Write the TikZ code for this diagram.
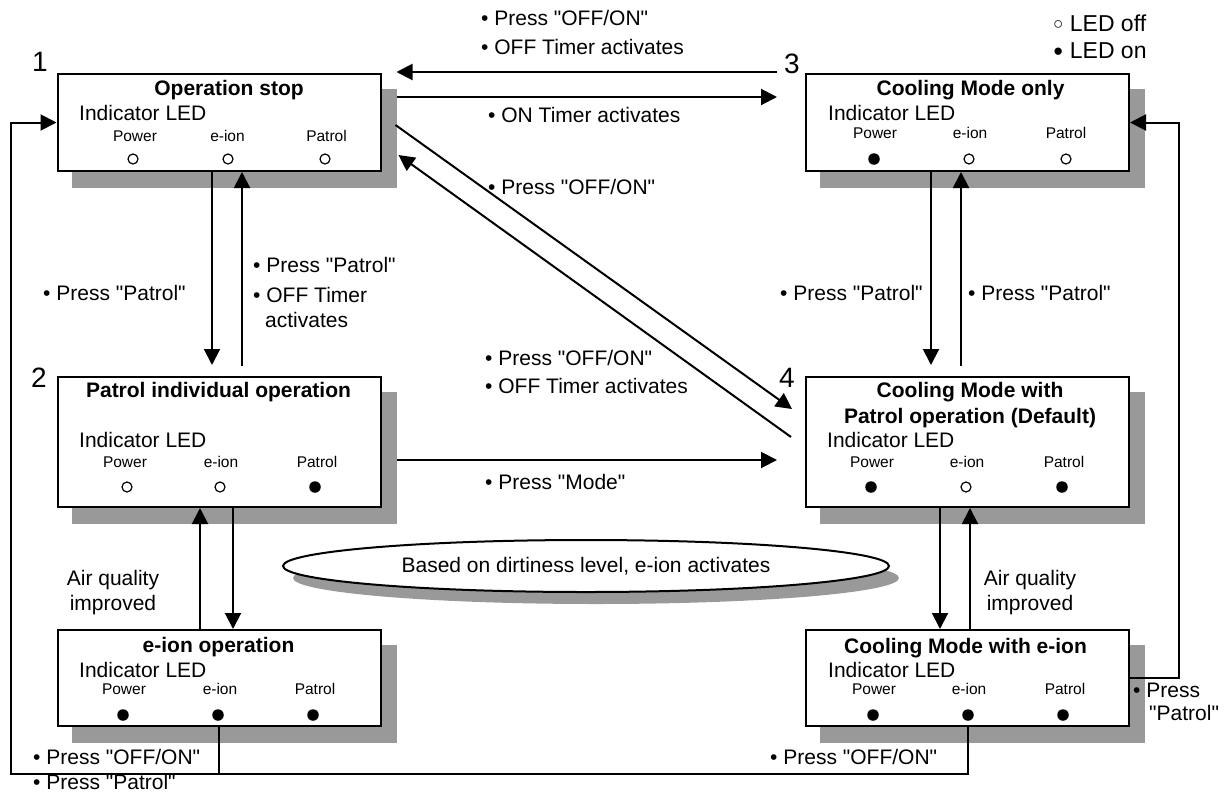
\documentclass[tikz,border=0pt]{standalone}
\usepackage{fontspec}
\newfontfamily\arial{Liberation Sans}
\usetikzlibrary{arrows.meta,shapes.geometric,backgrounds}
\definecolor{shadowgray}{RGB}{153,153,153}
\begin{document}
\begin{tikzpicture}[x=1pt,y=-1pt,
  lbl/.style={font=\arial\fontsize{21}{25}\selectfont, inner sep=0pt, text height=15pt, text depth=0pt, anchor=west},
  ttl/.style={font=\arial\fontsize{21}{25}\selectfont\bfseries, inner sep=0pt, text height=15pt, text depth=0pt},
  led/.style={font=\arial\fontsize{15.5}{18}\selectfont, inner sep=0pt, text height=11pt, text depth=0pt},
  num/.style={font=\arial\fontsize{28}{30}\selectfont, inner sep=0pt, text height=20pt, text depth=0pt},
  legend/.style={font=\arial\fontsize{23}{27}\selectfont, inner sep=0pt, text height=16.5pt, text depth=0pt, anchor=west},
  statebox/.style={draw, line width=2pt, fill=white, minimum width=323pt, inner sep=0pt},
  ledoff/.style={circle, draw, line width=1.2pt, fill=white, minimum size=10pt, inner sep=0pt},
  ledon/.style={circle, fill=black, minimum size=11.5pt, inner sep=0pt},
  arr/.style={line width=2pt, -{Triangle[length=16pt,width=16pt]}},
  con/.style={line width=2pt},
  shadowfill/.style={fill=shadowgray}
]
\useasboundingbox (0,0) rectangle (1228,796);

% state boxes
\node[statebox, minimum height=97pt] (b1) at (219,122.5) {};
\node[statebox, minimum height=97pt] (b3) at (967.5,122.5) {};
\node[statebox, minimum height=130pt] (b2) at (219,442) {};
\node[statebox, minimum height=130pt] (b4) at (967.5,442) {};
\node[statebox, minimum height=96pt] (b5) at (219,678) {};
\node[statebox, minimum height=96pt] (b6) at (967.5,678) {};

% ellipse
\node[ellipse, draw, line width=2pt, fill=white, minimum width=606pt, minimum height=52pt, inner sep=0pt,
      font=\arial\fontsize{21}{25}\selectfont] (ell) at (586,566) {Based on dirtiness level, e-ion activates};

\begin{scope}[on background layer]
\foreach \b in {b1,b2,b3,b4,b5,b6}
  \fill[shadowfill] ([xshift=15pt,yshift=-16pt]\b.south west) rectangle ([xshift=15pt,yshift=-16pt]\b.north east);
\fill[shadowfill] ([xshift=10pt,yshift=-12pt]ell.center) ellipse [x radius=303pt, y radius=26pt];
\end{scope}

% box 1
\node[ttl] (b1t) at (229,88) {Operation stop};
\node[lbl] (b1i) at (79,113) {Indicator LED};
\node[led] (b1a) at (135,136) {Power};
\node[led] (b1b) at (227.5,136) {e-ion};
\node[led] (b1c) at (326.5,136) {Patrol};
\node[ledoff] (b1ac) at (133,159) {};
\node[ledoff] (b1bc) at (228,159) {};
\node[ledoff] (b1cc) at (325,159) {};

% box 3
\node[ttl] (b3t) at (970.5,88) {Cooling Mode only};
\node[lbl] (b3i) at (828,113) {Indicator LED};
\node[led] (b3a) at (875,133) {Power};
\node[led] (b3b) at (970,133) {e-ion};
\node[led] (b3c) at (1066,133) {Patrol};
\node[ledon] (b3ac) at (874,159) {};
\node[ledoff] (b3bc) at (969,159) {};
\node[ledoff] (b3cc) at (1066,159) {};

% box 2
\node[ttl] (b2t) at (218.5,390) {Patrol individual operation};
\node[lbl] (b2i) at (79,440) {Indicator LED};
\node[led] (b2a) at (125,462) {Power};
\node[led] (b2b) at (221,462) {e-ion};
\node[led] (b2c) at (317,462) {Patrol};
\node[ledoff] (b2ac) at (127,487) {};
\node[ledoff] (b2bc) at (220,487) {};
\node[ledon] (b2cc) at (315,487) {};

% box 4
\node[ttl] (b4t) at (970,390) {Cooling Mode with};
\node[ttl] (b4u) at (970,416) {Patrol operation (Default)};
\node[lbl] (b4i) at (827,440) {Indicator LED};
\node[led] (b4a) at (872,462) {Power};
\node[led] (b4b) at (967,462) {e-ion};
\node[led] (b4c) at (1064,462) {Patrol};
\node[ledon] (b4ac) at (871,487) {};
\node[ledoff] (b4bc) at (966,487) {};
\node[ledon] (b4cc) at (1062,487) {};

% box 5
\node[ttl] (b5t) at (218.5,645) {e-ion operation};
\node[lbl] (b5i) at (79,670) {Indicator LED};
\node[led] (b5a) at (124,689) {Power};
\node[led] (b5b) at (220,689) {e-ion};
\node[led] (b5c) at (315,689) {Patrol};
\node[ledon] (b5ac) at (123,715) {};
\node[ledon] (b5bc) at (218,715) {};
\node[ledon] (b5cc) at (313,715) {};

% box 6
\node[ttl] (b6t) at (965.5,646) {Cooling Mode with e-ion};
\node[lbl] (b6i) at (828,670) {Indicator LED};
\node[led] (b6a) at (874,689) {Power};
\node[led] (b6b) at (969,689) {e-ion};
\node[led] (b6c) at (1065,689) {Patrol};
\node[ledon] (b6ac) at (873,715) {};
\node[ledon] (b6bc) at (968,715) {};
\node[ledon] (b6cc) at (1063,715) {};

% numbers
\node[num] (n1) at (40,61) {1};
\node[num] (n2) at (39,377) {2};
\node[num] (n3) at (792,63) {3};
\node[num] (n4) at (787,377) {4};

% legend
\node[legend] (lg1) at (1053,23) {{\fontsize{17}{20}\selectfont\raisebox{1.5pt}{○}} LED off};
\node[legend] (lg2) at (1053,50) {{\fontsize{17}{20}\selectfont\raisebox{1.5pt}{●}} LED on};

% connectors
\draw[arr] ([xshift=-28pt,yshift=50.5pt]b3.west) -- ([xshift=15pt,yshift=50.5pt]b1.east);
\draw[arr] ([xshift=15pt,yshift=25.5pt]b1.east) -- ([xshift=-28pt,yshift=25.5pt]b3.west);
\draw[arr] ([xshift=14pt,yshift=-2.5pt]b1.east) -- ([xshift=-13pt,yshift=-33pt]b4.north west);
\draw[arr] ([xshift=-14pt,yshift=-61pt]b4.north west) -- ([xshift=17pt,yshift=-32.5pt]b1.east);
\draw[arr,shorten >=11pt] ([xshift=-7pt]b1.south) -- ([xshift=-7pt]b2.north);
\draw[arr,shorten <=10pt] ([xshift=23pt]b2.north) -- ([xshift=23pt]b1.south);
\draw[arr,shorten >=11pt] ([xshift=-36.5pt]b3.south) -- ([xshift=-36.5pt]b4.north);
\draw[arr,shorten <=10pt] ([xshift=-6.5pt]b4.north) -- ([xshift=-6.5pt]b3.south);
\draw[arr] ([xshift=15pt,yshift=-18pt]b2.east) -- ([xshift=-28pt,yshift=-18pt]b4.west);
\draw[arr] ([xshift=14pt]b2.south) -- ([xshift=14pt]b5.north);
\draw[arr] ([xshift=-19pt]b5.north) -- ([xshift=-19pt]b2.south);
\draw[arr] ([xshift=-27.5pt]b4.south) -- ([xshift=-27.5pt]b6.north);
\draw[arr] ([xshift=2.5pt]b6.north) -- ([xshift=2.5pt]b4.south);
\draw[arr] (b6.east) -- ++(49,0) |- (b3.east);
\draw[arr] (b6.south) -- ++(0,47) -| ([xshift=-46pt]b1.west) -- (b1.west);
\draw[con] (b5.south) -- ++(0,47);

% connector labels
\node[lbl] (l1a) at (481,18) {• Press "OFF/ON"};
\node[lbl] (l1b) at (481,47) {• OFF Timer activates};
\node[lbl] (l2) at (488,115) {• ON Timer activates};
\node[lbl] (l3) at (488,187) {• Press "OFF/ON"};
\node[lbl] (l4a) at (485,358) {• Press "OFF/ON"};
\node[lbl] (l4b) at (485,386) {• OFF Timer activates};
\node[lbl] (l5) at (43,293) {• Press "Patrol"};
\node[lbl] (l6a) at (253,265) {• Press "Patrol"};
\node[lbl] (l6b) at (253,295) {• OFF Timer};
\node[lbl] (l6c) at (265,320) {activates};
\node[lbl] (l7) at (780,293) {• Press "Patrol"};
\node[lbl] (l8) at (968,293) {• Press "Patrol"};
\node[lbl] (l9) at (485,482) {• Press "Mode"};
\node[lbl, anchor=center] (l10a) at (113,578) {Air quality};
\node[lbl, anchor=center] (l10b) at (113,603) {improved};
\node[lbl, anchor=center] (l11a) at (1030,578) {Air quality};
\node[lbl, anchor=center] (l11b) at (1030,603) {improved};
\node[lbl] (l12a) at (1133,690) {• Press};
\node[lbl] (l12b) at (1149,713) {"Patrol"};
\node[lbl] (l13a) at (33,757) {• Press "OFF/ON"};
\node[lbl] (l13b) at (33,782) {• Press "Patrol"};
\node[lbl] (l14) at (770,757) {• Press "OFF/ON"};
\end{tikzpicture}
\end{document}
